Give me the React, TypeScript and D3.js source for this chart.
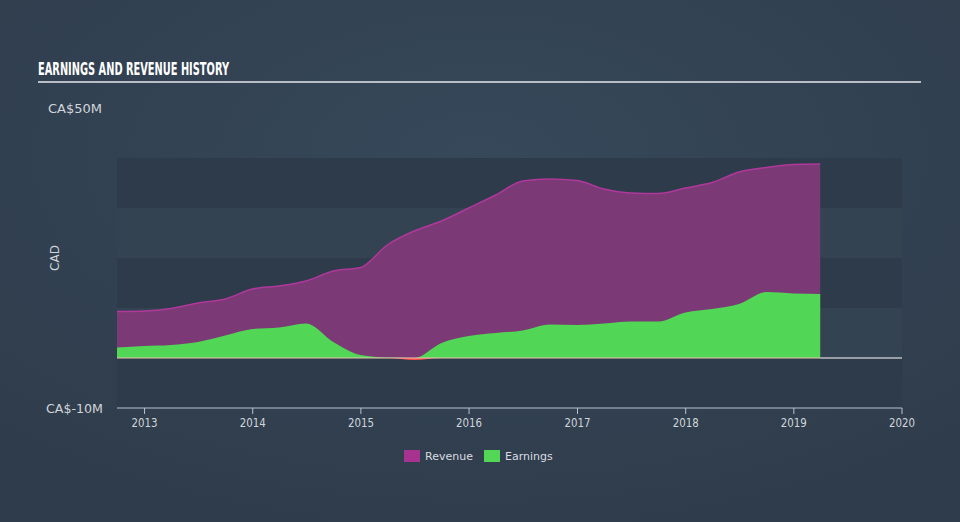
import React from "react";
import * as d3 from "d3";

const dates = [
  "2012-09-30","2012-12-31","2013-03-31","2013-06-30","2013-09-30","2013-12-31",
  "2014-03-31","2014-06-30","2014-09-30","2014-12-31","2015-03-31","2015-06-30",
  "2015-09-30","2015-12-31","2016-03-31","2016-06-30","2016-09-30","2016-12-31",
  "2017-03-31","2017-06-30","2017-09-30","2017-12-31","2018-03-31","2018-06-30",
  "2018-09-30","2018-12-31","2019-03-31",
];
const revenue = [
  9.3, 9.4, 9.9, 11.0, 11.8, 13.8, 14.4, 15.4, 17.4, 18.1, 22.6, 25.4, 27.4, 30.0,
  32.6, 35.4, 35.8, 35.5, 33.8, 33.0, 32.9, 34.0, 35.1, 37.2, 38.1, 38.7, 38.8,
];
const earnings = [
  2.1, 2.4, 2.6, 3.2, 4.5, 5.8, 6.1, 6.9, 3.2, 0.6, 0.1, -0.4, 3.0, 4.4,
  5.0, 5.5, 6.7, 6.6, 6.9, 7.3, 7.3, 9.1, 9.8, 10.8, 13.2, 12.9, 12.8,
];
const yearTicks = [2013, 2014, 2015, 2016, 2017, 2018, 2019, 2020];
const yLabels = ["CA$50M", "CA$-10M"];
const seriesNames = ["Revenue", "Earnings"];

export default function App() {
  const W = 960, H = 522;
  const x0 = 117, x1 = 902;
  const parse = d3.timeParse("%Y-%m-%d");
  const pts = dates.map((d, i) => ({ t: parse(d) as Date, r: revenue[i], e: earnings[i] }));
  const x = d3.scaleTime().domain([parse("2012-09-30") as Date, new Date(2020, 0, 1)]).range([x0, x1]);
  const y = d3.scaleLinear().domain([-10, 50]).range([408, 108]);

  const revArea = d3.area<any>().x(d => x(d.t)).y0(y(0)).y1(d => y(d.r)).curve(d3.curveMonotoneX);
  const revLine = d3.line<any>().x(d => x(d.t)).y(d => y(d.r)).curve(d3.curveMonotoneX);
  const earnArea = d3.area<any>().x(d => x(d.t)).y0(y(0)).y1(d => y(Math.max(0, d.e))).curve(d3.curveMonotoneX);
  const earnNeg = d3.area<any>().x(d => x(d.t)).y0(y(0)).y1(d => y(Math.min(0, d.e))).curve(d3.curveMonotoneX);

  const bands = [
    { a: 40, b: 30, dark: true },
    { a: 30, b: 20, dark: false },
    { a: 20, b: 10, dark: true },
    { a: 10, b: 0, dark: false },
    { a: 0, b: -10, dark: true },
  ];
  const lastX = x(pts[pts.length - 1].t);
  const labelFont = "'DejaVu Sans'";

  return (
    <svg width={W} height={H} style={{ position: "absolute", left: 0, top: 0 }}>
      <defs>
        <radialGradient id="bg" cx="50%" cy="30%" r="75%">
          <stop offset="0%" stopColor="#36485a" />
          <stop offset="100%" stopColor="#2f3c4b" />
        </radialGradient>
      </defs>
      <rect x={0} y={0} width={W} height={H} fill="url(#bg)" />
      <text x={38} y={75} fill="#ffffff" fontFamily="'DejaVu Sans Condensed', 'DejaVu Sans'" fontStretch="condensed" fontWeight="bold" fontSize={17}
        textLength={191} lengthAdjust="spacingAndGlyphs">
        EARNINGS AND REVENUE HISTORY
      </text>
      <line x1={38} x2={921} y1={82} y2={82} stroke="#b8bec6" strokeWidth={2} />

      {bands.map((b, i) => (
        <rect key={i} x={x0} y={y(b.a)} width={x1 - x0} height={y(b.b) - y(b.a)}
          fill={b.dark ? "#2d3b4a" : "#344352"} />
      ))}

      <path d={revArea(pts) || ""} fill="#7b3a75" />
      <path d={revLine(pts) || ""} fill="none" stroke="#b0389c" strokeWidth={1.5} />
      <path d={earnArea(pts) || ""} fill="#51d655" />
      <path d={earnNeg(pts) || ""} fill="#ff4d4d" />

      <line x1={x0} x2={lastX} y1={y(0)} y2={y(0)} stroke="#f0c4b4" strokeWidth={1} />
      <line x1={lastX} x2={x1} y1={y(0)} y2={y(0)} stroke="#ffffff" strokeWidth={1} />

      <line x1={x0} x2={x1} y1={408} y2={408} stroke="#b8c2cc" strokeWidth={1} />
      {yearTicks.map(yr => {
        const tx = x(new Date(yr, 0, 1));
        return (
          <g key={yr}>
            <line x1={tx} x2={tx} y1={408} y2={414} stroke="#b8c2cc" />
            <text x={tx} y={427} textAnchor="middle" fill="#d0d5da"
              fontFamily="'DejaVu Sans Condensed', 'DejaVu Sans'" fontStretch="condensed" fontSize={12}
              textLength={26} lengthAdjust="spacingAndGlyphs">
              {yr}
            </text>
          </g>
        );
      })}

      <text x={48} y={113} fill="#d0d5da" fontFamily={labelFont} fontSize={12} textLength={54} lengthAdjust="spacingAndGlyphs">{yLabels[0]}</text>
      <text x={46} y={413} fill="#d0d5da" fontFamily={labelFont} fontSize={12} textLength={57} lengthAdjust="spacingAndGlyphs">{yLabels[1]}</text>
      <text transform="translate(59,258) rotate(-90)" textAnchor="middle" fill="#d0d5da" fontFamily={labelFont} fontSize={12}>CAD</text>

      <rect x={404} y={450} width={16} height={12} fill="#a8328f" />
      <text x={425} y={460} fill="#d8dce0" fontFamily={labelFont} fontSize={11}>{seriesNames[0]}</text>
      <rect x={484} y={450} width={16} height={12} fill="#51d655" />
      <text x={505} y={460} fill="#d8dce0" fontFamily={labelFont} fontSize={11}>{seriesNames[1]}</text>
    </svg>
  );
}
